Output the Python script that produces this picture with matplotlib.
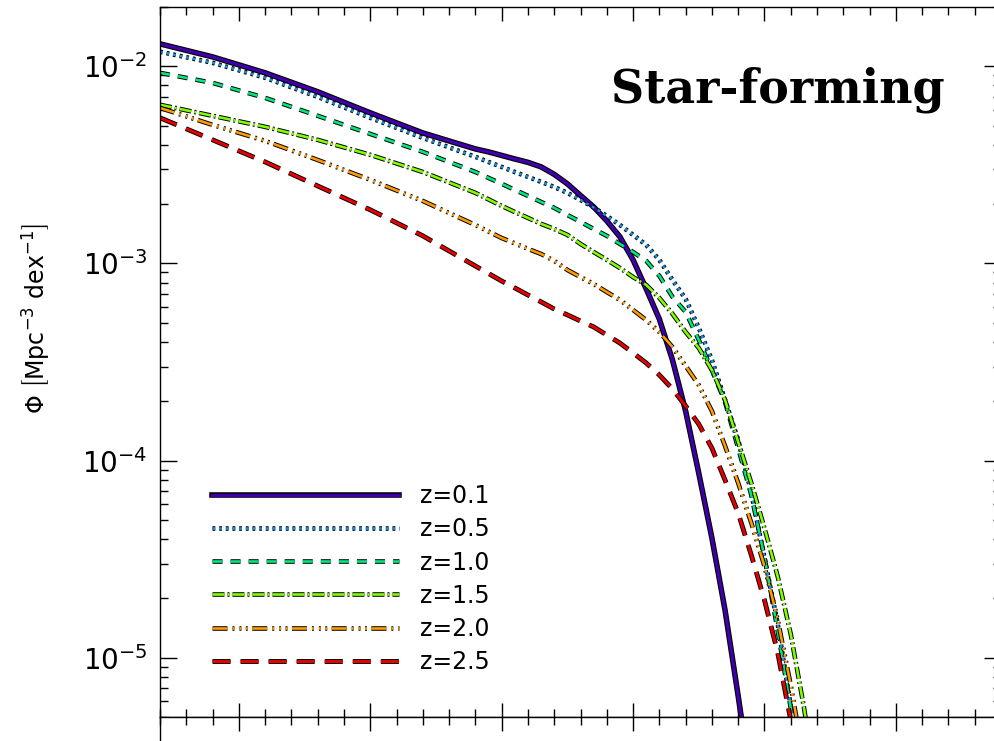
import numpy as np
import matplotlib
matplotlib.use("Agg")
import matplotlib.pyplot as plt
import matplotlib.patheffects as pe
from matplotlib.ticker import MultipleLocator, LogLocator, NullFormatter

plt.rcParams['lines.scale_dashes'] = False
plt.rcParams['font.family'] = 'DejaVu Sans'

# log stellar mass grid shared by all curves (finer around the knee)
log_mass = [8.7, 8.9, 9.1, 9.3, 9.5, 9.7,
            9.9, 9.95, 10.0, 10.05, 10.1, 10.15, 10.2, 10.25, 10.3, 10.35,
            10.4, 10.45, 10.5, 10.55, 10.6, 10.65, 10.7, 10.75, 10.8, 10.85,
            10.9, 10.95, 11.0, 11.05, 11.1, 11.15, 11.2]

# log10 phi
phi_z01 = [-1.886, -1.952, -2.033, -2.129, -2.236, -2.338,
           -2.419, -2.434, -2.452, -2.470, -2.487, -2.510, -2.548, -2.596, -2.655, -2.713,
           -2.784, -2.865, -2.982, -3.129, -3.282, -3.490, -3.749, -4.064, -4.393, -4.759,
           -5.195, -5.647, -6.129, -6.7, -7.3, -7.9, -8.5]
phi_z05 = [-1.926, -1.982, -2.058, -2.155, -2.261, -2.363,
           -2.459, -2.485, -2.510, -2.536, -2.561, -2.586, -2.612, -2.642, -2.678, -2.716,
           -2.759, -2.805, -2.855, -2.906, -2.982, -3.084, -3.180, -3.327, -3.490, -3.693,
           -3.896, -4.165, -4.495, -4.825, -5.246, -5.723, -6.231]
phi_z10 = [-2.033, -2.084, -2.160, -2.251, -2.343, -2.434,
           -2.536, -2.566, -2.596, -2.627, -2.657, -2.688, -2.718, -2.754, -2.789, -2.825,
           -2.860, -2.901, -2.942, -2.987, -3.063, -3.170, -3.246, -3.388, -3.541, -3.703,
           -3.937, -4.175, -4.490, -4.860, -5.256, -5.723, -6.231]
phi_z15 = [-2.195, -2.251, -2.307, -2.373, -2.449, -2.536,
           -2.642, -2.675, -2.708, -2.739, -2.769, -2.799, -2.825, -2.855, -2.901, -2.942,
           -2.982, -3.023, -3.069, -3.109, -3.175, -3.256, -3.348, -3.429, -3.541, -3.693,
           -3.906, -4.114, -4.343, -4.586, -4.881, -5.251, -5.673]
phi_z20 = [-2.211, -2.297, -2.378, -2.475, -2.576, -2.683,
           -2.805, -2.838, -2.871, -2.898, -2.926, -2.952, -2.987, -3.033, -3.069, -3.104,
           -3.145, -3.185, -3.236, -3.287, -3.348, -3.424, -3.520, -3.617, -3.749, -3.926,
           -4.114, -4.317, -4.536, -4.805, -5.140, -5.520, -5.926]
phi_z25 = [-2.261, -2.373, -2.485, -2.607, -2.728, -2.860,
           -3.013, -3.051, -3.089, -3.124, -3.160, -3.195, -3.231, -3.261, -3.292, -3.322,
           -3.363, -3.404, -3.454, -3.505, -3.566, -3.637, -3.723, -3.815, -3.937, -4.099,
           -4.267, -4.480, -4.708, -4.972, -5.317, -5.673, -6.028]

labels = ['z=0.1', 'z=0.5', 'z=1.0', 'z=1.5', 'z=2.0', 'z=2.5']
colors = ['#3f00aa', '#1a8ee0', '#00e87c', '#80ff00', '#ff9a00', '#e80000']

# (style, inner lw, outline lw)
styles = [
    ('-', 2.4, 4.0),
    ((0, (2.0, 2.8)), 1.9, 3.3),
    ((0, (7.2, 5.8)), 1.9, 3.3),
    ((0, (8.6, 2.2, 1.4, 2.2)), 1.9, 3.3),
    ((0, (10.8, 3.6, 1.4, 3.6, 1.4, 3.2, 1.4, 3.2)), 1.9, 3.3),
    ((0, (13.0, 7.2)), 2.1, 3.5),
]

W, H = 995, 741
fig = plt.figure(figsize=(W / 100, H / 100), dpi=100)
ax = fig.add_axes([160 / W, 24 / H, 841 / W, 710 / H])
# top edge of the panel underneath (cropped in the original)
ax2 = fig.add_axes([160 / W, -676 / H, 841 / W, 700 / H])

curves = [phi_z01, phi_z05, phi_z10, phi_z15, phi_z20, phi_z25]
for phi, lab, col, (ls, lw, lw_out) in zip(curves, labels, colors, styles):
    ax.plot(log_mass, 10 ** np.array(phi), color=col, ls=ls, lw=lw, label=lab,
            path_effects=[pe.Stroke(linewidth=lw_out, foreground='k'), pe.Normal()])

ax.set_yscale('log')
ax.set_xlim(8.7, 11.9)
ax.set_ylim(5e-6, 2e-2)

for a in (ax, ax2):
    a.set_xlim(8.7, 11.9)
    a.xaxis.set_major_locator(MultipleLocator(0.5))
    a.xaxis.set_minor_locator(MultipleLocator(0.1))
    for s in a.spines.values():
        s.set_linewidth(1.0)

ax.yaxis.set_major_locator(LogLocator(base=10))
ax.yaxis.set_minor_locator(LogLocator(base=10, subs=np.arange(2, 10)))
ax.yaxis.set_minor_formatter(NullFormatter())

ax.tick_params(axis='x', which='both', direction='in', top=True, bottom=True,
               labelbottom=False, width=1.0)
ax.tick_params(axis='x', which='major', length=10)
ax.tick_params(axis='x', which='minor', length=5.5)
ax.tick_params(axis='y', which='both', direction='in', left=True, right=True,
               width=1.0, labelsize=20, pad=9)
ax.tick_params(axis='y', which='major', length=12)
ax.tick_params(axis='y', which='minor', length=6)

ax2.tick_params(axis='x', which='both', direction='in', top=True, bottom=False,
                labelbottom=False, labeltop=False, width=1.0)
ax2.tick_params(axis='x', which='major', length=10)
ax2.tick_params(axis='x', which='minor', length=5.5)
ax2.set_yticks([])

ax.text(0.933, 0.866, 'Star-forming', transform=ax.transAxes, ha='right',
        va='baseline', fontsize=33, fontweight='bold', family='DejaVu Serif')

fig.text(37 / W, 1 - 318 / H,
         r'$\Phi\ \left[\mathrm{Mpc}^{-3}\ \mathrm{dex}^{-1}\right]$',
         rotation=90, ha='center', va='center', fontsize=17)

ax.legend(loc='upper left', bbox_to_anchor=(0.0618, 0.328), frameon=False,
          fontsize=17, handlelength=7.9, handletextpad=0.93, labelspacing=0.39,
          borderpad=0, borderaxespad=0)

fig.savefig('out.png', dpi=100)
